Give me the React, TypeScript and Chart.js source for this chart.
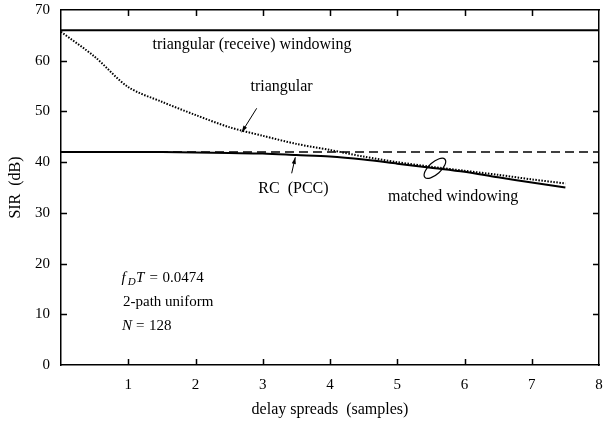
import React, { useEffect, useRef } from "react";
import { Chart, registerables } from "chart.js";

Chart.register(...registerables);

// ---- data ----
const upperX = [0, 8];
const upperY = [66, 66];

const triX = [0, 0.5, 1, 1.5, 2, 2.5, 3, 3.5, 4, 4.5, 5, 5.5, 6, 6.5, 7, 7.5];
const triY = [65.7, 60.8, 54.8, 51.9, 49.3, 46.9, 45.2, 43.6, 42.4, 41.1, 40.0, 39.1, 38.3, 37.5, 36.6, 35.8];

const rcX = [0, 1, 1.5, 2, 2.5, 3, 3.5, 4, 4.5, 5, 5.5, 6, 6.5, 7, 7.5];
const rcY = [42, 42, 42, 41.9, 41.8, 41.7, 41.4, 41.1, 40.5, 39.7, 38.9, 38.1, 37.0, 36.0, 35.0];

const refX = [0, 8];
const refY = [42, 42];

const xTicks = [1, 2, 3, 4, 5, 6, 7, 8];
const yTicks = [0, 10, 20, 30, 40, 50, 60, 70];

const xTitle = "delay spreads  (samples)";
const yTitle = "SIR  (dB)";

const FONT = "'Liberation Serif', 'Times New Roman', serif";

const pts = (xs: number[], ys: number[]) => xs.map((x, i) => ({ x, y: ys[i] }));

const zeroPad = (s: any) => {
  s.paddingTop = 0;
  s.paddingBottom = 0;
  s.paddingLeft = 0;
  s.paddingRight = 0;
};

const decorPlugin = {
  id: "decor",
  afterDraw(chart: any) {
    const { ctx, chartArea, scales } = chart;
    const x = scales.x;
    const y = scales.y;
    ctx.save();
    // inward ticks
    ctx.strokeStyle = "#000";
    ctx.lineWidth = 1.5;
    const tl = 6;
    x.ticks.forEach((t: any) => {
      if (t.value <= 0 || t.value >= 8) return;
      const px = Math.round(x.getPixelForValue(t.value)) + 0.5;
      ctx.beginPath();
      ctx.moveTo(px, chartArea.bottom);
      ctx.lineTo(px, chartArea.bottom - tl);
      ctx.moveTo(px, chartArea.top);
      ctx.lineTo(px, chartArea.top + tl);
      ctx.stroke();
    });
    y.ticks.forEach((t: any) => {
      if (t.value <= 0 || t.value >= 70) return;
      const py = Math.round(y.getPixelForValue(t.value)) + 0.5;
      ctx.beginPath();
      ctx.moveTo(chartArea.left, py);
      ctx.lineTo(chartArea.left + tl, py);
      ctx.moveTo(chartArea.right, py);
      ctx.lineTo(chartArea.right - tl, py);
      ctx.stroke();
    });

    const X = (v: number) => x.getPixelForValue(v);
    const Y = (v: number) => y.getPixelForValue(v);

    ctx.fillStyle = "#000";
    ctx.textBaseline = "middle";
    ctx.font = `16px ${FONT}`;
    ctx.textAlign = "center";
    ctx.fillText("triangular (receive) windowing", X(2.84), Y(63.1));
    ctx.fillText("triangular", X(3.28), Y(54.9));
    ctx.fillText("RC  (PCC)", X(3.457), Y(34.8));
    ctx.fillText("matched windowing", X(5.83), Y(33.07));

    // left-bottom notes
    ctx.textAlign = "left";
    let cx = X(0.9);
    let cy = Y(17.16);
    ctx.font = `italic 15px ${FONT}`;
    ctx.fillText("f", cx, cy);
    ctx.font = `italic 11px ${FONT}`;
    ctx.fillText("D", cx + 6.3, cy + 4);
    ctx.font = `italic 15px ${FONT}`;
    ctx.fillText("T", cx + 14.5, cy);
    ctx.font = `15px ${FONT}`;
    ctx.fillText("=", cx + 28, cy);
    ctx.fillText("0.0474", cx + 41, cy);

    ctx.fillText("2-path uniform", X(0.9) + 1.5, Y(12.48));

    cx = X(0.9) + 0.5;
    cy = Y(7.69);
    ctx.font = `italic 15px ${FONT}`;
    ctx.fillText("N", cx, cy);
    ctx.font = `15px ${FONT}`;
    ctx.fillText("=", cx + 14, cy);
    ctx.fillText("128", cx + 27, cy);

    // arrows
    const arrow = (x1: number, y1: number, x2: number, y2: number) => {
      const ax1 = X(x1), ay1 = Y(y1), ax2 = X(x2), ay2 = Y(y2);
      ctx.lineWidth = 1;
      ctx.beginPath();
      ctx.moveTo(ax1, ay1);
      ctx.lineTo(ax2, ay2);
      ctx.stroke();
      const ang = Math.atan2(ay2 - ay1, ax2 - ax1);
      const hl = 7, hw = 0.3;
      ctx.beginPath();
      ctx.moveTo(ax2, ay2);
      ctx.lineTo(ax2 - hl * Math.cos(ang - hw), ay2 - hl * Math.sin(ang - hw));
      ctx.lineTo(ax2 - hl * Math.cos(ang + hw), ay2 - hl * Math.sin(ang + hw));
      ctx.closePath();
      ctx.fill();
    };
    arrow(2.91, 50.62, 2.687, 45.89);
    arrow(3.43, 37.8, 3.484, 40.96);

    // ellipse
    ctx.lineWidth = 1.2;
    ctx.beginPath();
    ctx.ellipse(X(5.56), Y(38.79), 13.5, 6, -42 * Math.PI / 180, 0, Math.PI * 2);
    ctx.stroke();

    ctx.restore();
  },
};

export default function App() {
  const ref = useRef<HTMLCanvasElement | null>(null);
  useEffect(() => {
    if (!ref.current) return;
    const tickFont = { family: FONT, size: 15 };
    const titleFont = { family: FONT, size: 16 };
    const chart = new Chart(ref.current, {
      type: "scatter",
      data: {
        datasets: [
          {
            data: pts(upperX, upperY),
            showLine: true,
            borderColor: "#000",
            borderWidth: 2,
            pointRadius: 0,
          },
          {
            data: pts(refX, refY),
            showLine: true,
            borderColor: "#000",
            borderWidth: 1.5,
            borderDash: [9, 5],
            pointRadius: 0,
          },
          {
            data: pts(triX, triY),
            showLine: true,
            borderColor: "#000",
            borderWidth: 2,
            borderDash: [1.5, 1.5],
            pointRadius: 0,
            tension: 0.3,
          },
          {
            data: pts(rcX, rcY),
            showLine: true,
            borderColor: "#000",
            borderWidth: 2,
            pointRadius: 0,
            tension: 0.3,
          },
        ],
      },
      options: {
        responsive: false,
        animation: false,
        maintainAspectRatio: false,
        layout: { padding: 0, autoPadding: false },
        plugins: { legend: { display: false }, tooltip: { enabled: false } },
        scales: {
          x: {
            type: "linear",
            position: "bottom",
            min: 0,
            max: 8,
            afterBuildTicks: (s: any) => {
              s.ticks = [0, ...xTicks].map((v) => ({ value: v }));
            },
            ticks: {
              callback: (v: any) => (v === 0 ? "" : String(v)),
              font: tickFont,
              color: "#000",
              padding: 11,
              maxRotation: 0,
              autoSkip: false,
            },
            grid: { display: true, drawOnChartArea: false, drawTicks: false, color: "rgba(0,0,0,0)" },
            border: { display: true, color: "#000", width: 1.5 },
            title: { display: true, text: xTitle, font: titleFont, color: "#000", padding: { top: 0, bottom: 4 } },
            afterFit: (s: any) => {
              s.height = 58;
              zeroPad(s);
            },
          },
          xTop: {
            type: "linear",
            position: "top",
            min: 0,
            max: 8,
            ticks: { display: false },
            grid: { display: true, drawOnChartArea: false, drawTicks: false, color: "rgba(0,0,0,0)" },
            border: { display: true, color: "#000", width: 1.5 },
            afterFit: (s: any) => {
              s.height = 10;
              zeroPad(s);
            },
          },
          y: {
            type: "linear",
            position: "left",
            min: 0,
            max: 70,
            afterBuildTicks: (s: any) => {
              s.ticks = yTicks.map((v) => ({ value: v }));
            },
            ticks: { font: tickFont, color: "#000", padding: 11 },
            grid: { display: true, drawOnChartArea: false, drawTicks: false, color: "rgba(0,0,0,0)" },
            border: { display: true, color: "#000", width: 1.5 },
            title: { display: true, text: yTitle, font: titleFont, color: "#000", padding: { top: 6, bottom: 0 } },
            afterFit: (s: any) => {
              s.width = 61;
              zeroPad(s);
            },
          },
          yRight: {
            type: "linear",
            position: "right",
            min: 0,
            max: 70,
            ticks: { display: false },
            grid: { display: true, drawOnChartArea: false, drawTicks: false, color: "rgba(0,0,0,0)" },
            border: { display: true, color: "#000", width: 1.5 },
            afterFit: (s: any) => {
              s.width = 6;
              zeroPad(s);
            },
          },
        },
      },
      plugins: [decorPlugin],
    } as any);
    return () => chart.destroy();
  }, []);
  return (
    <div style={{ position: "fixed", left: 0, top: 0, width: 605, height: 423, background: "#fff" }}>
      <canvas ref={ref} width={605} height={423} style={{ width: 605, height: 423, display: "block" }} />
    </div>
  );
}
